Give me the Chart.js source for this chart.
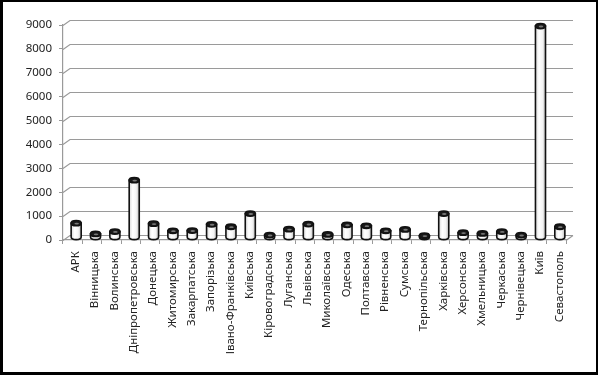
<!DOCTYPE html>
<html>
<head>
<meta charset="utf-8">
<script src="https://cdn.jsdelivr.net/npm/chart.js@4"></script>
<style>
  html, body { margin: 0; padding: 0; background: #fff; }
  .wrap { position: relative; width: 600px; height: 375px; }
  .frame {
    position: absolute; left: 0; top: 0; width: 598px; height: 375px;
    box-sizing: border-box; border: 2px solid #000; border-left-width: 3px; border-bottom-width: 3px;
    pointer-events: none;
  }
</style>
</head>
<body>
<div class="wrap">
  <canvas id="chart" width="600" height="375"></canvas>
  <div class="frame"></div>
</div>
<script>
// regions
const regions = ['АРК', 'Вінницька', 'Волинська', 'Дніпропетровська', 'Донецька', 'Житомирська',
  'Закарпатська', 'Запорізька', 'Івано-Франківська', 'Київська', 'Кіровоградська', 'Луганська',
  'Львівська', 'Миколаївська', 'Одеська', 'Полтавська', 'Рівненська', 'Сумська', 'Тернопільська',
  'Харківська', 'Херсонська', 'Хмельницька', 'Черкаська', 'Чернівецька', 'Київ', 'Севастополь'];
// values
const values = [600, 150, 250, 2400, 580, 280, 290, 550, 450, 1000, 100, 350,
  560, 130, 530, 490, 280, 340, 75, 1000, 200, 170, 250, 100, 8850, 450];
const yTicks = [0, 1000, 2000, 3000, 4000, 5000, 6000, 7000, 8000, 9000];

// 3D depth offset of the back wall
const DX = 7, DY = -5;
const axisGrey = '#9a9a9a';

function drawWall(chart) {
  const ctx = chart.ctx;
  const area = chart.chartArea;
  const y = chart.scales.y;
  ctx.save();
  ctx.strokeStyle = axisGrey;
  ctx.lineWidth = 1.2;
  yTicks.forEach(t => {
    const py = Math.round(y.getPixelForValue(t)) + 0.5;
    ctx.beginPath();
    ctx.moveTo(area.left, py);
    ctx.lineTo(area.left + DX, py + DY);
    ctx.lineTo(area.right + DX, py + DY);
    ctx.stroke();
  });
  // right end of the floor
  const py0 = Math.round(y.getPixelForValue(0)) + 0.5;
  ctx.beginPath();
  ctx.moveTo(area.right, py0);
  ctx.lineTo(area.right + DX, py0 + DY);
  ctx.stroke();
  ctx.restore();
}

// back wall first, then each bar as a small cylinder
const cylinderPlugin = {
  id: 'cylinder',
  afterDatasetsDraw(chart) {
    drawWall(chart);
    const { ctx } = chart;
    const meta = chart.getDatasetMeta(0);
    ctx.save();
    meta.data.forEach(bar => {
      const { x, y, base, width } = bar.getProps(['x', 'y', 'base', 'width'], true);
      const cx = x + DX / 2;
      const top = y + DY / 2;
      const bottom = base + DY / 2;
      const rx = width / 2;
      const ry = 2.6;
      const l = cx - rx, r = cx + rx;

      const grad = ctx.createLinearGradient(l, 0, r, 0);
      grad.addColorStop(0, '#d8d8d8');
      grad.addColorStop(0.35, '#ffffff');
      grad.addColorStop(0.7, '#f4f4f4');
      grad.addColorStop(1, '#bdbdbd');

      // body
      ctx.beginPath();
      ctx.moveTo(l, top);
      ctx.lineTo(l, bottom);
      ctx.ellipse(cx, bottom, rx, ry, 0, Math.PI, 0, true);
      ctx.lineTo(r, top);
      ctx.closePath();
      ctx.fillStyle = grad;
      ctx.fill();
      ctx.lineWidth = 1.6;
      ctx.strokeStyle = '#111';
      ctx.stroke();

      // top cap
      ctx.beginPath();
      ctx.ellipse(cx, top, rx, ry, 0, 0, Math.PI * 2);
      ctx.fillStyle = '#1a1a1a';
      ctx.fill();
      ctx.stroke();
      ctx.beginPath();
      ctx.ellipse(cx + 0.5, top + 0.4, rx * 0.45, ry * 0.35, 0, 0, Math.PI * 2);
      ctx.fillStyle = '#777';
      ctx.fill();
    });
    ctx.restore();
  }
};

const font = { family: '"Noto Sans", sans-serif', size: 11.5 };

new Chart(document.getElementById('chart'), {
  type: 'bar',
  data: {
    labels: regions,
    datasets: [{
      data: values,
      backgroundColor: 'rgba(0,0,0,0)',
      borderWidth: 0,
      barPercentage: 0.52,
      categoryPercentage: 1
    }]
  },
  options: {
    responsive: false,
    animation: false,
    layout: { padding: { top: 25, right: 34, bottom: 0, left: 0 } },
    plugins: { legend: { display: false }, tooltip: { enabled: false } },
    scales: {
      x: {
        afterFit: scale => { scale.height = 135; },
        grid: { drawOnChartArea: false, drawTicks: true, tickLength: 4, color: axisGrey, offset: true },
        border: { display: true, color: axisGrey, width: 1.2 },
        ticks: { minRotation: 90, maxRotation: 90, autoSkip: false, padding: 7, labelOffset: 3, color: '#222', font }
      },
      y: {
        min: 0,
        max: 9000,
        afterFit: scale => { scale.width = 63; },
        grid: { drawOnChartArea: false, drawTicks: true, tickLength: 4, color: axisGrey },
        border: { display: true, color: axisGrey, width: 1.2 },
        ticks: { stepSize: 1000, padding: 7, color: '#222', font, callback: v => String(v) }
      }
    }
  },
  plugins: [cylinderPlugin]
});
</script>
</body>
</html>
